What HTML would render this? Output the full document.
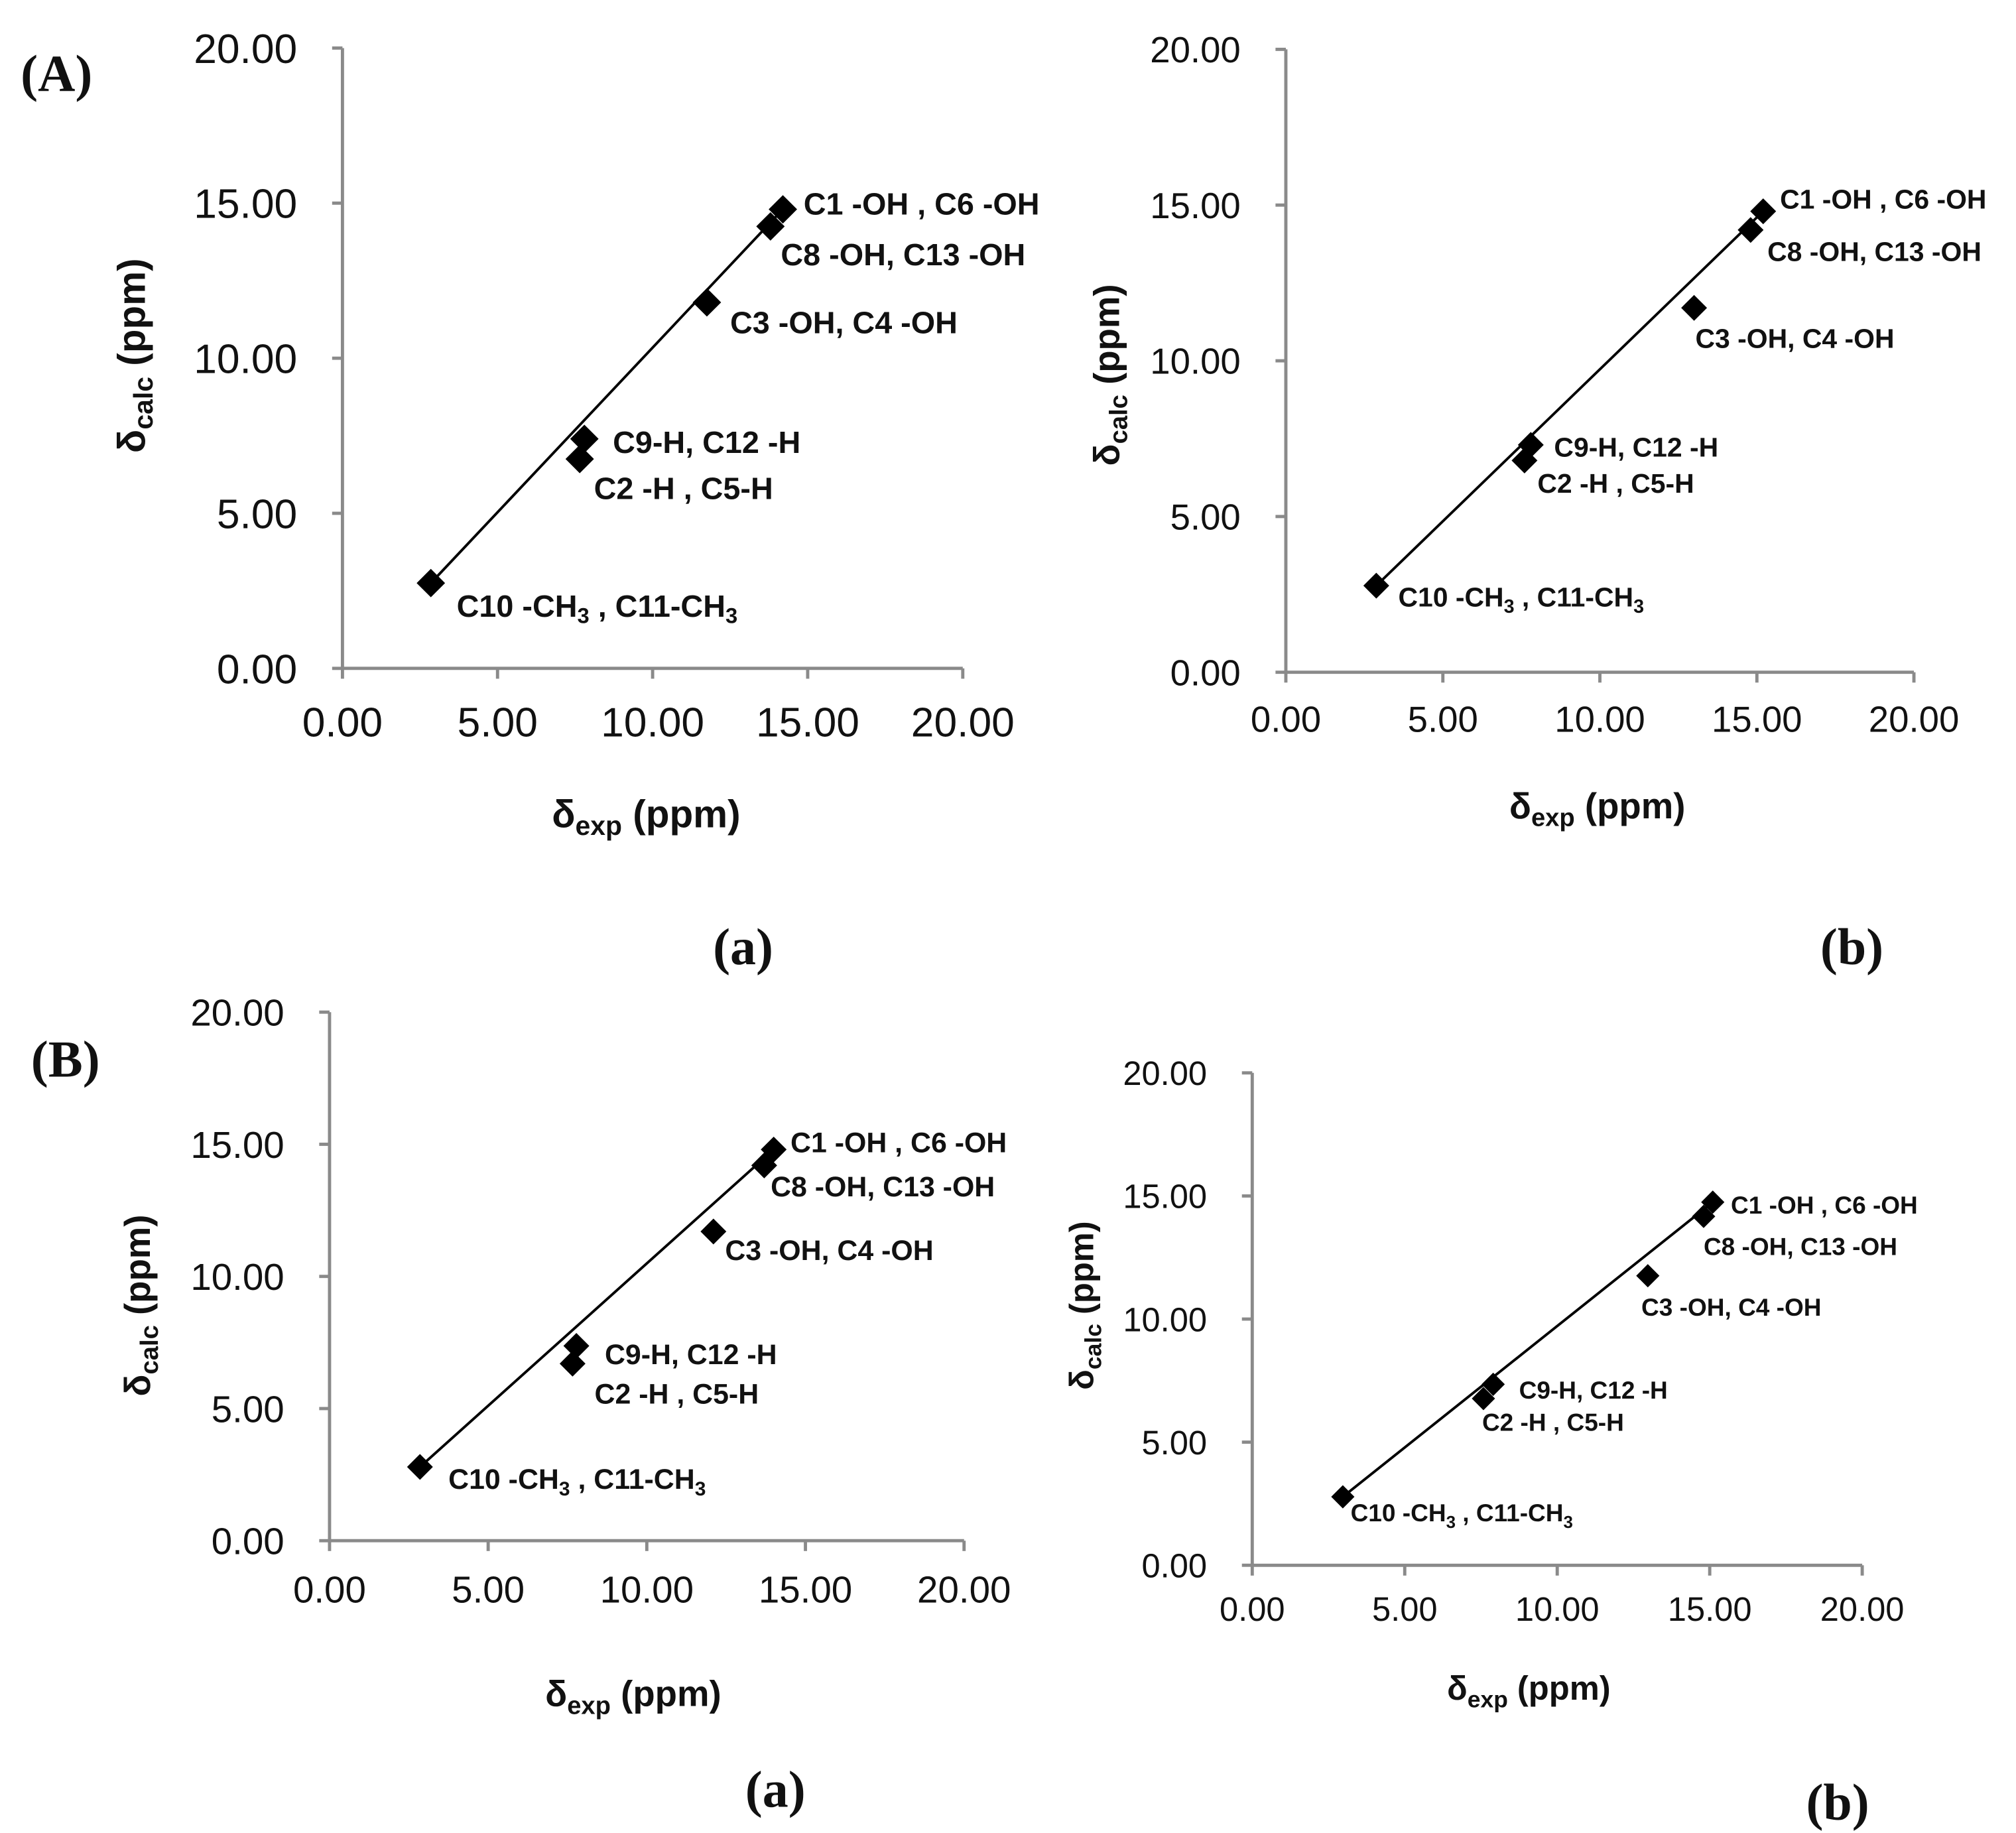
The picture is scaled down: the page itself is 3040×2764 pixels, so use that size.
<!DOCTYPE html>
<html><head><meta charset="utf-8"><style>
html,body{margin:0;padding:0;background:#fff;}
svg{display:block;}
.tick{font-family:"Liberation Sans",sans-serif;fill:#111;}
.lbl{font-family:"Liberation Sans",sans-serif;font-weight:bold;fill:#111;}
.ser{font-family:"Liberation Serif",serif;font-weight:bold;fill:#111;}
</style></head><body>
<svg id="fig" width="3040" height="2764" viewBox="0 0 1560 1418" xmlns="http://www.w3.org/2000/svg">
<text class="ser" x="16" y="70" font-size="40">(A)</text>
<text class="ser" x="575" y="746" font-size="40" text-anchor="middle">(a)</text>
<text class="ser" x="1433" y="746" font-size="40" text-anchor="middle">(b)</text>
<text class="ser" x="24" y="833" font-size="40">(B)</text>
<text class="ser" x="600" y="1398" font-size="40" text-anchor="middle">(a)</text>
<text class="ser" x="1422" y="1408" font-size="40" text-anchor="middle">(b)</text>
</svg>
<script>
const ticks = [0, 5, 10, 15, 20];
const tickLabels = ["0.00", "5.00", "10.00", "15.00", "20.00"];
const pointNames = ["C10-CH3", "C2-H", "C9-H", "C3-OH", "C8-OH", "C1-OH"];
const labelTexts = [
  ["C10 -CH", "3", " , C11-CH", "3"],
  ["C2 -H , C5-H"],
  ["C9-H, C12 -H"],
  ["C3 -OH, C4 -OH"],
  ["C8 -OH, C13 -OH"],
  ["C1 -OH , C6 -OH"]
];
const aaExp  = [2.85, 7.65, 7.8, 11.75, 13.8, 14.2];
const aaCalc = [2.75, 6.75, 7.4, 11.8, 14.25, 14.8];
const abExp  = [2.88, 7.6, 7.8, 13.0, 14.8, 15.2];
const abCalc = [2.78, 6.8, 7.3, 11.7, 14.2, 14.8];
const baExp  = [2.85, 7.66, 7.78, 12.1, 13.7, 14.0];
const baCalc = [2.79, 6.7, 7.37, 11.7, 14.2, 14.8];
const bbExp  = [2.97, 7.58, 7.9, 12.97, 14.8, 15.1];
const bbCalc = [2.78, 6.77, 7.35, 11.76, 14.17, 14.75];

const NS = "http://www.w3.org/2000/svg";
const svg = document.getElementById('fig');
function mk(tag, attrs, parent){
  const e = document.createElementNS(NS, tag);
  for (const k in attrs) e.setAttribute(k, attrs[k]);
  (parent||svg).appendChild(e);
  return e;
}

const panels = [
  {id:"Aa", ex:aaExp, ca:aaCalc, x0:265, x1:745, y0:517, y1:37, tf:32, lf:24, ms:11,
   xt:[500,640], yt:[112,275], tf2:30,
   off:[[20,26],[11,31],[22,11],[18,24],[8,30],[16,4]]},
  {id:"Ab", ex:abExp, ca:abCalc, x0:995, x1:1481, y0:520, y1:38, tf:28, lf:21, ms:10,
   xt:[1236,633], yt:[866,290], tf2:28,
   off:[[17,16],[10,25],[18,9],[1,31],[13,24],[13,-2]]},
  {id:"Ba", ex:baExp, ca:baCalc, x0:255, x1:746, y0:1192, y1:783, tf:29, lf:22, ms:10,
   xt:[490,1320], yt:[116,1010], tf2:28,
   off:[[22,17],[17,31],[22,14],[9,22],[5,24],[13,2]]},
  {id:"Bb", ex:bbExp, ca:bbCalc, x0:969, x1:1441, y0:1211, y1:830, tf:26, lf:19, ms:9,
   xt:[1183,1315], yt:[846,1010], tf2:26,
   off:[[6,19],[-1,25],[20,11],[-5,31],[0,30],[14,9]]}
];

panels.forEach(p => {
  const g = mk('g', {});
  
  
  const sx = v => p.x0 + (p.x1 - p.x0) * v / 20;
  const sy = v => p.y0 + (p.y1 - p.y0) * v / 20;
  const ya = mk('line', {x1:p.x0, y1:p.y0, x2:p.x0, y2:p.y1, stroke:'#8a8a8a', 'stroke-width':2.5}, g);
  
  
  const xa = mk('line', {x1:p.x0, y1:p.y0, x2:p.x1, y2:p.y0, stroke:'#8a8a8a', 'stroke-width':2.5}, g);
  
  
  ticks.forEach((t, i) => {
    mk('line', {x1:p.x0-8, y1:sy(t), x2:p.x0, y2:sy(t), stroke:'#8a8a8a', 'stroke-width':2.5}, g);
    mk('line', {x1:sx(t), y1:p.y0, x2:sx(t), y2:p.y0+8, stroke:'#8a8a8a', 'stroke-width':2.5}, g);
    const yl = mk('text', {x:p.x0-35, y:sy(t)+p.tf*0.36, 'font-size':p.tf, 'text-anchor':'end', class:'tick'}, g);
    yl.textContent = tickLabels[i];
    
    
    const xl = mk('text', {x:sx(t), y:p.y0+p.tf*1.65, 'font-size':p.tf, 'text-anchor':'middle', class:'tick'}, g);
    xl.textContent = tickLabels[i];
    
    
  });
  const xtt = mk('text', {x:p.xt[0], y:p.xt[1], 'font-size':p.tf2, 'text-anchor':'middle', class:'lbl'}, g);
  xtt.innerHTML = 'δ<tspan font-size="' + (p.tf2*0.7) + '" dy="6">exp</tspan><tspan dy="-6"> (ppm)</tspan>';
  
  
  const ytt = mk('text', {x:0, y:0, 'font-size':p.tf2, 'text-anchor':'middle', class:'lbl',
    transform:'translate(' + p.yt[0] + ',' + p.yt[1] + ') rotate(-90)'}, g);
  ytt.innerHTML = 'δ<tspan font-size="' + (p.tf2*0.7) + '" dy="6">calc</tspan><tspan dy="-6"> (ppm)</tspan>';
  
  
  const n = p.ex.length;
  const fl = mk('line', {x1:sx(p.ex[0]), y1:sy(p.ca[0]), x2:sx(p.ex[n-1]), y2:sy(p.ca[n-1]), stroke:'#000', 'stroke-width':2}, g);
  
  
  for (let i = 0; i < n; i++) {
    const cx = sx(p.ex[i]), cy = sy(p.ca[i]), s = p.ms;
    const pt = mk('polygon', {points:(cx)+','+(cy-s)+' '+(cx+s)+','+cy+' '+cx+','+(cy+s)+' '+(cx-s)+','+cy, fill:'#000'}, g);
    
    
    const t = mk('text', {x:cx+p.off[i][0], y:cy+p.off[i][1], 'font-size':p.lf, class:'lbl'}, g);
    const parts = labelTexts[i];
    if (parts.length === 1) t.textContent = parts[0];
    else {
      t.innerHTML = parts[0] + '<tspan font-size="' + (p.lf*0.7) + '" dy="5">' + parts[1] + '</tspan><tspan dy="-5">' + parts[2] + '</tspan><tspan font-size="' + (p.lf*0.7) + '" dy="5">' + parts[3] + '</tspan>';
    }
    
    
  }
});
</script>
</body></html>
